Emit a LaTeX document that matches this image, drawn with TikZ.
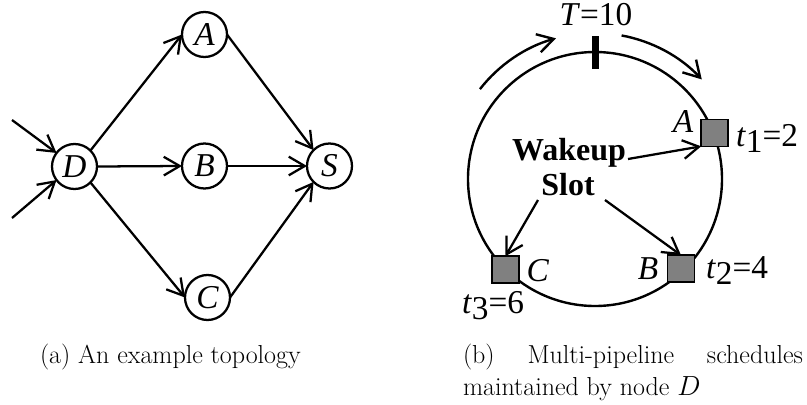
\documentclass[tikz,border=0pt]{standalone}
\usepackage{fontspec}
\newfontfamily\tnr{Liberation Serif}
\usetikzlibrary{arrows.meta}
\begin{document}
\begin{tikzpicture}[x=0.75pt,y=-0.75pt,
  every node/.style={inner sep=0pt, outer sep=0pt},
  vtx/.style={circle, draw, line width=1.7pt, minimum size=33.75pt, font=\tnr\fontsize{25}{30}\selectfont\itshape},
  barb/.style={-{Straight Barb[length=12pt,width=14pt]}},
  edge/.style={line width=1.7pt, barb},
  lbl/.style={font=\tnr\fontsize{25}{30}\selectfont, anchor=base},
  slotbox/.style={draw, line width=1.2pt, fill=gray, minimum size=20pt},
  captxt/.style={font=\fontsize{19.5}{24}\selectfont, anchor=base west}]
\useasboundingbox (0,0) rectangle (807,404);
% ---------- (a) topology ----------
\node[vtx] (A) at (204.5,34.5) {A};
\node[vtx] (D) at (74.5,166.5) {D};
\node[vtx] (B) at (204.5,166) {B};
\node[vtx] (S) at (329.5,166) {S};
\node[vtx] (C) at (207.5,297.5) {C};
\coordinate (in1) at (12,120);
\coordinate (in2) at (12,218);
\draw[edge] (in1) -- (D.143);
\draw[edge] (in2) -- (D.217);
\draw[edge] (D.north east) -- (A.west);
\draw[edge] (D.east) -- (B.west);
\draw[edge] (D.south east) -- (C.west);
\draw[edge] (A.east) -- (S.north west);
\draw[edge] (B.east) -- (S.west);
\draw[edge] (C.east) -- (S.south west);
% ---------- (b) schedule ----------
\coordinate (ctr) at (595,179);
\draw[line width=1.8pt] (ctr) circle[radius=95.25pt];
\draw[line width=1.8pt, barb] ([shift={(142:109.5pt)}]ctr) arc[start angle=142, end angle=105.5, radius=109.5pt];
\draw[line width=1.8pt, barb] ([shift={(79.5:109.5pt)}]ctr) arc[start angle=79.5, end angle=43, radius=109.5pt];
\coordinate (tickt) at (595.5,36);
\coordinate (tickb) at (595.5,69);
\draw[line width=5.2pt] (tickt) -- (tickb);
\node[lbl] (T) at (596,25) {\textit{T}=10};
\node[slotbox] (sqA) at (714.5,133) {};
\node[slotbox] (sqB) at (681,268.5) {};
\node[slotbox] (sqC) at (505.5,269.5) {};
\node[lbl] (lA) at (683,132) {\textit{A}};
\node[lbl, anchor=base west] (tA) at (736,146) {\textit{t}\raisebox{-5pt}{1}=2};
\node[lbl] (lB) at (648,279) {\textit{B}};
\node[lbl, anchor=base west] (tB) at (706,278) {\textit{t}\raisebox{-5pt}{2}=4};
\node[lbl] (lC) at (538,281) {\textit{C}};
\node[lbl, anchor=base west] (tC) at (462,313) {\textit{t}\raisebox{-5pt}{3}=6};
\node[lbl, font=\tnr\fontsize{24}{30}\selectfont\bfseries] (wk) at (569,160) {Wakeup};
\node[lbl, font=\tnr\fontsize{24}{30}\selectfont\bfseries] (sl) at (568,195) {Slot};
\coordinate (wA) at (628,159);
\coordinate (wB) at (605,200);
\coordinate (wC) at (538,200);
\draw[edge] (wA) -- (sqA.south west);
\draw[edge] (wB) -- (sqB.north);
\draw[edge] (wC) -- (sqC.north);
% ---------- captions ----------
\node[captxt] (capa) at (40,363) {(a) An example topology};
\node[captxt] (capb1) at (463,363) {\makebox[255pt][s]{(b) Multi-pipeline schedules}};
\node[captxt] (capb2) at (463,395) {maintained by node $D$};
\end{tikzpicture}
\end{document}
